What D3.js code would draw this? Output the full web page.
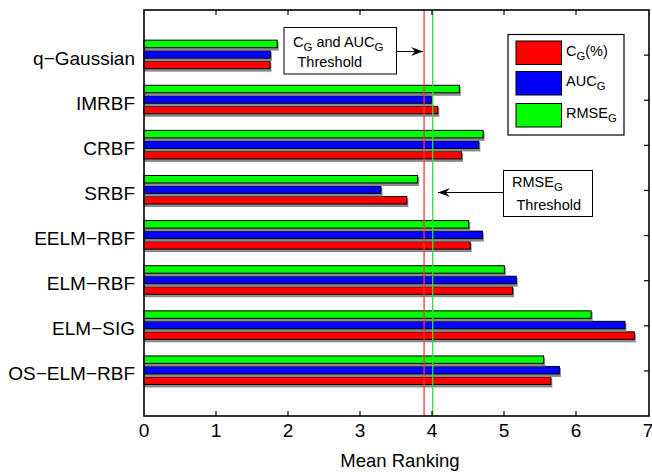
<!DOCTYPE html>
<html><head><meta charset="utf-8">
<script src="https://cdn.jsdelivr.net/npm/d3@7"></script>
<style>body{margin:0;background:#fff}svg{display:block;font-family:"Liberation Sans",Arial,sans-serif}</style>
</head><body><svg id="c" width="652" height="473"></svg>
<script>
const categories = ["q\u2212Gaussian","IMRBF","CRBF","SRBF","EELM\u2212RBF","ELM\u2212RBF","ELM\u2212SIG","OS\u2212ELM\u2212RBF"];
const cgValues   = [1.75, 4.08, 4.41, 3.65, 4.53, 5.12, 6.81, 5.65];
const aucValues  = [1.755, 3.99, 4.65, 3.29, 4.70, 5.17, 6.68, 5.77];
const rmseValues = [1.85, 4.38, 4.71, 3.80, 4.51, 5.005, 6.21, 5.55];
const xTicks = [0,1,2,3,4,5,6,7];
const cgAucThreshold = 3.89;
const rmseThreshold = 4.01;
const seriesNames = [["C","G","(%)"],["AUC","G",""],["RMSE","G",""]];

const svg = d3.select("#c");
const L=144, R=648, T=10, B=416;
const x = d3.scaleLinear().domain([0,7]).range([L,R]);
const y = d3.scaleLinear().domain([0,categories.length+1]).range([B,T]);
const pos = i => categories.length - i;

const series = [
  {vals: cgValues, color:"#ff0000", off:-0.233},
  {vals: aucValues, color:"#0000ff", off:0.0},
  {vals: rmseValues, color:"#00ff00", off:0.233}
];
const bh = 7.5;
const g = svg.append("g");
series.forEach(s=>{
  s.vals.forEach((v,i)=>{
    const cy = y(pos(i)+s.off) - 0.7;
    g.append("rect").attr("x",x(0)).attr("y",cy-bh/2+1.5).attr("width",x(v)-x(0)+1.5).attr("height",bh+1.5).attr("fill","#8a8a8a");
    g.append("rect").attr("x",x(0)).attr("y",cy-bh/2).attr("width",x(v)-x(0)).attr("height",bh)
      .attr("fill",s.color).attr("stroke","#000").attr("stroke-width",1);
  });
});

// threshold lines
svg.append("line").attr("x1",x(cgAucThreshold)).attr("x2",x(cgAucThreshold)).attr("y1",T).attr("y2",B).attr("stroke","#ff3333").attr("stroke-width",1.3);
svg.append("line").attr("x1",x(rmseThreshold)).attr("x2",x(rmseThreshold)).attr("y1",T).attr("y2",B).attr("stroke","#33dd33").attr("stroke-width",1.3);

// frame
svg.append("rect").attr("x",L).attr("y",T).attr("width",R-L+1).attr("height",B-T).attr("fill","none").attr("stroke","#000").attr("stroke-width",1.6);

// ticks
const tl=5;
xTicks.forEach(t=>{
  if(t>0 && t<7){
    svg.append("line").attr("x1",x(t)).attr("x2",x(t)).attr("y1",B).attr("y2",B-tl).attr("stroke","#000").attr("stroke-width",1.2);
    svg.append("line").attr("x1",x(t)).attr("x2",x(t)).attr("y1",T).attr("y2",T+tl).attr("stroke","#000").attr("stroke-width",1.2);
  }
  svg.append("text").attr("x",x(t)).attr("y",437).attr("text-anchor","middle").attr("font-size",19).text(t);
});
categories.forEach((c,i)=>{
  const yy=y(pos(i));
  svg.append("line").attr("x1",R+1).attr("x2",R+1-tl).attr("y1",yy).attr("y2",yy).attr("stroke","#000").attr("stroke-width",1.2);
  svg.append("text").attr("x",135).attr("y",yy+9.5).attr("text-anchor","end").attr("font-size",19).text(c);
});
svg.append("text").attr("x",(L+R)/2+4).attr("y",467).attr("text-anchor","middle").attr("font-size",18.5).text("Mean Ranking");

function subText(sel, px, py, parts, fs){
  const t = sel.append("text").attr("x",px).attr("y",py).attr("font-size",fs);
  t.append("tspan").text(parts[0]);
  t.append("tspan").attr("dy",4).attr("font-size",fs*0.78).text(parts[1]);
  if(parts[2]) t.append("tspan").attr("dy",-4).text(parts[2]);
  return t;
}

// legend
svg.append("rect").attr("x",508).attr("y",34.5).attr("width",116).attr("height",100.5).attr("fill","#fff").attr("stroke","#000").attr("stroke-width",1.2);
const legColors=["#ff0000","#0000ff","#00ff00"];
const legY=[41,71.5,103.5];
legColors.forEach((c,i)=>{
  svg.append("rect").attr("x",516).attr("y",legY[i]).attr("width",45.5).attr("height",23.5).attr("fill",c).attr("stroke","#000").attr("stroke-width",1);
  subText(svg,566,legY[i]+14.5,seriesNames[i],14.5);
});

// arrows
function arrow(x1,y1,x2,y2){
  svg.append("line").attr("x1",x1).attr("y1",y1).attr("x2",x2).attr("y2",y2).attr("stroke","#000").attr("stroke-width",1);
  const dir = Math.sign(x2-x1);
  const hl=12, hw=4.5;
  svg.append("path").attr("d",`M${x2},${y2} L${x2-dir*hl},${y2-hw} L${x2-dir*hl*0.65},${y2} L${x2-dir*hl},${y2+hw} Z`).attr("fill","#000");
}
// annotation 1
svg.append("rect").attr("x",284).attr("y",27.5).attr("width",112.5).attr("height",46.5).attr("fill","#fff").attr("stroke","#000").attr("stroke-width",1);
{
  const t=svg.append("text").attr("x",293).attr("y",47).attr("font-size",14.5);
  t.append("tspan").text("C");
  t.append("tspan").attr("dy",4).attr("font-size",11.5).text("G");
  t.append("tspan").attr("dy",-4).text(" and AUC");
  t.append("tspan").attr("dy",4).attr("font-size",11.5).text("G");
  svg.append("text").attr("x",297.5).attr("y",67).attr("font-size",14.5).text("Threshold");
}
arrow(397,51.5,423,51.5);
// annotation 2
svg.append("rect").attr("x",503.5).attr("y",170.5).attr("width",89).attr("height",46).attr("fill","#fff").attr("stroke","#000").attr("stroke-width",1);
subText(svg,512,187,["RMSE","G",""],14.5);
svg.append("text").attr("x",516.5).attr("y",209.5).attr("font-size",14.5).text("Threshold");
arrow(503,192.5,438,192.5);
</script></body></html>
